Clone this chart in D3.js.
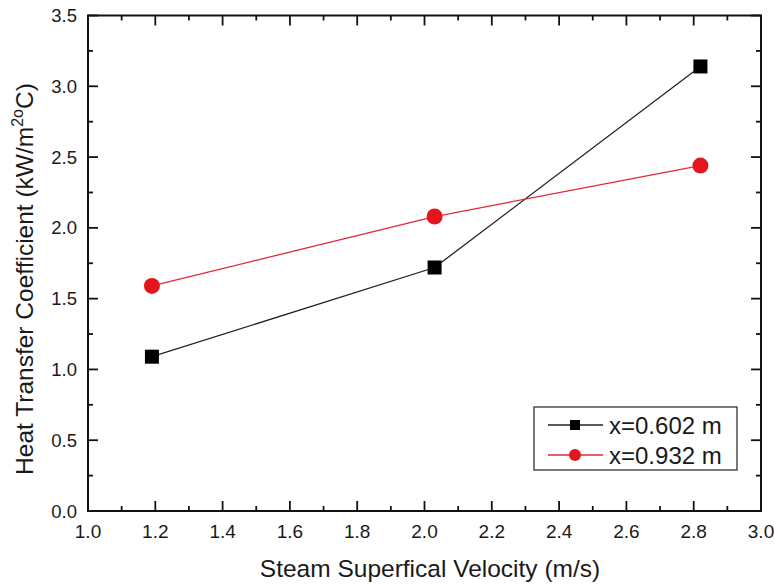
<!DOCTYPE html>
<html>
<head>
<meta charset="utf-8">
<script src="https://cdn.jsdelivr.net/npm/d3@7"></script>
<style>
    body { margin: 0; background: #fff; }
    text { font-family: "Liberation Sans", Arial, sans-serif; fill: #1a1a1a; }
</style>
</head>
<body>
<div id="chart"></div>
<script>
// data
const velocity = [1.19, 2.03, 2.82];
const h602 = [1.09, 1.72, 3.14];
const h932 = [1.59, 2.08, 2.44];
const seriesNames = ["x=0.602 m", "x=0.932 m"];
const xTicks = [1.0, 1.2, 1.4, 1.6, 1.8, 2.0, 2.2, 2.4, 2.6, 2.8, 3.0];
const yTicks = [0.0, 0.5, 1.0, 1.5, 2.0, 2.5, 3.0, 3.5];

const width = 775, height = 586;
const margin = ({top: 15.5, right: 14, bottom: 75, left: 88});
const plot_width = width - margin.left - margin.right;
const plot_height = height - margin.top - margin.bottom;

const xScale = d3.scaleLinear([1.0, 3.0], [margin.left, margin.left + plot_width]);
const yScale = d3.scaleLinear([0, 3.5], [margin.top + plot_height, margin.top]);

const svg = d3.select("#chart").append("svg")
    .attr("width", width)
    .attr("height", height);

// minor ticks halfway between majors
const xMinor = d3.range(1.1, 3.0, 0.2);
const yMinor = d3.range(0.25, 3.5, 0.5);

function drawTicks(g, scale, vals, len, side)
{
    g.selectAll(null)
        .data(vals)
        .join("line")
        .attr("stroke", "#111")
        .attr("stroke-width", 1.8)
        .each(function(d) {
            const s = d3.select(this);
            const p = scale(d);
            if (side == "bottom") s.attr("x1", p).attr("x2", p).attr("y1", yScale(0)).attr("y2", yScale(0) - len);
            if (side == "top") s.attr("x1", p).attr("x2", p).attr("y1", yScale(3.5)).attr("y2", yScale(3.5) + len);
            if (side == "left") s.attr("y1", p).attr("y2", p).attr("x1", xScale(1)).attr("x2", xScale(1) + len);
            if (side == "right") s.attr("y1", p).attr("y2", p).attr("x1", xScale(3)).attr("x2", xScale(3) - len);
        });
}

const ticks = svg.append("g");
["bottom", "top"].forEach(side => {
    drawTicks(ticks, xScale, xTicks, 10, side);
    drawTicks(ticks, xScale, xMinor, 5, side);
});
["left", "right"].forEach(side => {
    drawTicks(ticks, yScale, yTicks, 10, side);
    drawTicks(ticks, yScale, yMinor, 5, side);
});

// frame
svg.append("rect")
    .attr("x", xScale(1))
    .attr("y", yScale(3.5))
    .attr("width", xScale(3) - xScale(1))
    .attr("height", yScale(0) - yScale(3.5))
    .attr("fill", "none")
    .attr("stroke", "#111")
    .attr("stroke-width", 2);

// tick labels
svg.append("g")
    .selectAll("text")
    .data(xTicks)
    .join("text")
    .attr("x", d => xScale(d))
    .attr("y", yScale(0) + 27)
    .attr("text-anchor", "middle")
    .attr("font-size", 19)
    .text(d => d.toFixed(1));

svg.append("g")
    .selectAll("text")
    .data(yTicks)
    .join("text")
    .attr("x", xScale(1) - 11)
    .attr("y", d => yScale(d) + 6.5)
    .attr("text-anchor", "end")
    .attr("font-size", 18.5)
    .text(d => d.toFixed(1));

// axis titles
svg.append("text")
    .attr("x", 430)
    .attr("y", 577)
    .attr("text-anchor", "middle")
    .attr("font-size", 24.5)
    .text("Steam Superfical Velocity (m/s)");

const yTitle = svg.append("text")
    .attr("transform", `translate(33,279) rotate(-90)`)
    .attr("text-anchor", "middle")
    .attr("font-size", 24.5);
yTitle.append("tspan").text("Heat Transfer Coefficient (kW/m");
yTitle.append("tspan").attr("dy", -10).attr("font-size", 16).text("2");
yTitle.append("tspan").attr("font-size", 16).text("o");
yTitle.append("tspan").attr("dy", 10).text("C)");

// series
const line = d3.line().x((d, i) => xScale(velocity[i])).y(d => yScale(d));

svg.append("path")
    .datum(h602)
    .attr("d", line)
    .attr("fill", "none")
    .attr("stroke", "#222")
    .attr("stroke-width", 1.3);

svg.append("path")
    .datum(h932)
    .attr("d", line)
    .attr("fill", "none")
    .attr("stroke", "#e0283a")
    .attr("stroke-width", 1.3);

const sq = 14;
svg.append("g")
    .selectAll("rect")
    .data(h602)
    .join("rect")
    .attr("x", (d, i) => xScale(velocity[i]) - sq / 2)
    .attr("y", d => yScale(d) - sq / 2)
    .attr("width", sq)
    .attr("height", sq)
    .attr("fill", "#000");

svg.append("g")
    .selectAll("circle")
    .data(h932)
    .join("circle")
    .attr("cx", (d, i) => xScale(velocity[i]))
    .attr("cy", d => yScale(d))
    .attr("r", 8)
    .attr("fill", "#e3161e");

// legend
const legend = svg.append("g").attr("transform", "translate(534,407)");
legend.append("rect")
    .attr("width", 203)
    .attr("height", 63)
    .attr("fill", "#fff")
    .attr("stroke", "#333")
    .attr("stroke-width", 1.3);

const legendRows = [
    {name: seriesNames[0], color: "#222", marker: "square"},
    {name: seriesNames[1], color: "#e0283a", marker: "circle"}
];
legendRows.forEach((r, i) => {
    const y = 18 + i * 30;
    const row = legend.append("g").attr("transform", `translate(0,${y})`);
    row.append("line")
        .attr("x1", 14).attr("x2", 69)
        .attr("stroke", r.color)
        .attr("stroke-width", 1.3);
    if (r.marker == "square")
    {
        row.append("rect")
            .attr("x", 36).attr("y", -5)
            .attr("width", 10).attr("height", 10)
            .attr("fill", "#000");
    }
    else
    {
        row.append("circle")
            .attr("cx", 41).attr("r", 6)
            .attr("fill", "#e3161e");
    }
    row.append("text")
        .attr("x", 75)
        .attr("y", 8.5)
        .attr("font-size", 24)
        .text(r.name);
});
</script>
</body>
</html>
